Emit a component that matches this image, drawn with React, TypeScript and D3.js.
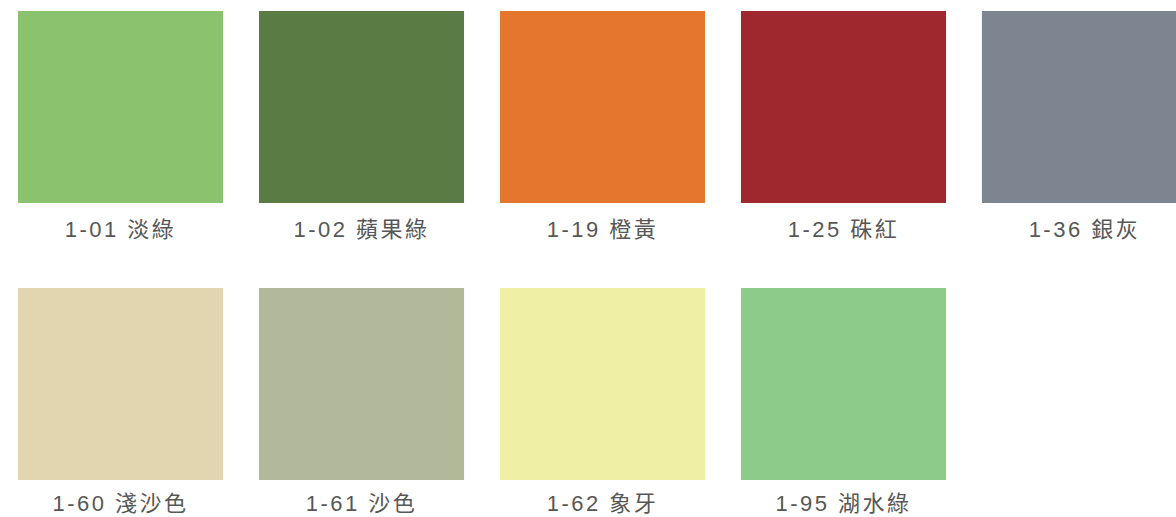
import React from "react";
import * as d3 from "d3";

const codes = ["1-01", "1-02", "1-19", "1-25", "1-36", "1-60", "1-61", "1-62", "1-95"];
const names = ["淡綠", "蘋果綠", "橙黃", "硃紅", "銀灰", "淺沙色", "沙色", "象牙", "湖水綠"];
const colors = ["#8BC26E", "#5A7B44", "#E4762D", "#9E282D", "#7D8590", "#E2D6B1", "#B2B99A", "#F0EFA6", "#8CCB8A"];

const W = 1176;
const H = 517;
const COLS = 5;

export default function App() {
  const x = d3.scaleBand<number>().domain(d3.range(COLS)).range([18, 1187]).paddingInner(0.149).paddingOuter(0);
  const y = d3.scaleBand<number>().domain([0, 1]).range([11, 480]).paddingInner(0.307).paddingOuter(0);

  const items = codes.map((c, i) => ({
    code: c,
    name: names[i],
    color: colors[i],
    col: i % COLS,
    row: Math.floor(i / COLS),
  }));

  return (
    <svg
      width={W}
      height={H}
      viewBox={`0 0 ${W} ${H}`}
      style={{ position: "absolute", left: 0, top: 0, background: "#fff" }}
    >
      {items.map((d) => {
        const x0 = x(d.col)!;
        const y0 = y(d.row)!;
        const bw = x.bandwidth();
        const bh = y.bandwidth();
        return (
          <g key={d.code}>
            <rect x={x0} y={y0} width={bw} height={bh} fill={d.color} />
            <text
              x={x0 + bw / 2}
              y={y0 + bh + (d.row === 0 ? 34 : 31)}
              textAnchor="middle"
              fill="#575757"
              fontSize={22}
              letterSpacing={2.5}
              fontFamily="'Liberation Sans', 'Noto Sans CJK TC', sans-serif"
            >
              {d.code + " " + d.name}
            </text>
          </g>
        );
      })}
    </svg>
  );
}
